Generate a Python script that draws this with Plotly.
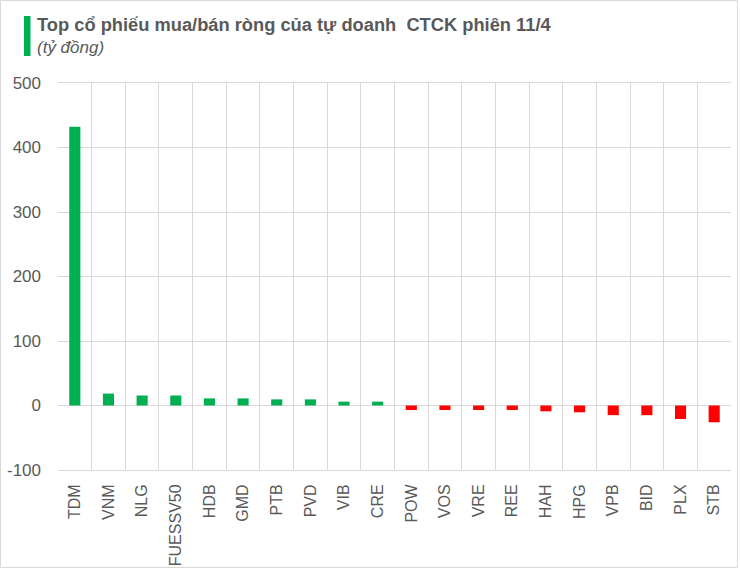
import plotly.graph_objects as go

categories = ["TDM", "VNM", "NLG", "FUESSV50", "HDB", "GMD", "PTB", "PVD", "VIB", "CRE",
              "POW", "VOS", "VRE", "REE", "HAH", "HPG", "VPB", "BID", "PLX", "STB"]
values = [432, 18.5, 15.5, 15.5, 11, 11, 9.5, 9.5, 6, 6,
          -7, -7, -7, -7, -9, -10.5, -15, -15, -21, -26]
y_ticks = [-100, 0, 100, 200, 300, 400, 500]
y_tick_labels = ["-100", "0", "100", "200", "300", "400", "500"]
title_text = "Top cổ phiếu mua/bán ròng của tự doanh  CTCK phiên 11/4"
subtitle_text = "(tỷ đồng)"

colors = ["#00b050" if v >= 0 else "#ff0000" for v in values]

W, H = 740, 570
ml, mr, mt, mb = 58, 9, 83, 100
pw, ph = W - ml - mr, H - mt - mb

fig = go.Figure(go.Bar(x=categories, y=values, marker=dict(color=colors, line=dict(width=0)),
                       width=0.33))

fig.update_layout(
    width=W, height=H,
    margin=dict(l=ml, r=mr, t=mt, b=mb),
    paper_bgcolor="white", plot_bgcolor="white",
    showlegend=False,
    font=dict(family="Liberation Sans", color="#595959"),
    xaxis=dict(type="category", tickson="boundaries", showgrid=True, gridcolor="#d9d9d9",
               gridwidth=1, ticks="", tickangle=-90, tickfont=dict(size=16, color="#595959"),
               showline=True, linecolor="#d9d9d9", mirror=True, range=[-0.5, 19.5],
               ticklabelstandoff=7, automargin=False),
    yaxis=dict(range=[-100, 500], tickvals=y_ticks, ticktext=y_tick_labels,
               showgrid=True, gridcolor="#d9d9d9",
               zeroline=True, zerolinecolor="#d9d9d9", zerolinewidth=1,
               tickfont=dict(size=17, color="#595959"), ticks="", ticklabelstandoff=16,
               showline=False, automargin=False),
    shapes=[
        dict(type="rect", xref="paper", yref="paper",
             x0=(0.5 - ml) / pw, x1=(W - ml - 2.5) / pw,
             y0=-(mb - 2.5) / ph, y1=(ph + mt - 0.5) / ph,
             line=dict(color="#d9d9d9", width=1), fillcolor="rgba(0,0,0,0)", layer="below"),
        dict(type="rect", xref="paper", yref="paper",
             x0=(24 - ml) / pw, x1=(30.5 - ml) / pw,
             y0=(H - mb - 56) / ph, y1=(H - mb - 16) / ph,
             line=dict(width=0), fillcolor="#00b050"),
    ],
    annotations=[
        dict(text="<b>" + title_text + "</b>", xref="paper", yref="paper",
             x=(35 - ml) / pw, y=(H - mb - 24) / ph, xanchor="left", yanchor="middle",
             showarrow=False, font=dict(family="Liberation Sans", size=18.3, color="#595959")),
        dict(text="<i>" + subtitle_text + "</i>", xref="paper", yref="paper",
             x=(35 - ml) / pw, y=(H - mb - 48) / ph, xanchor="left", yanchor="middle",
             showarrow=False, font=dict(family="Liberation Sans", size=17, color="#595959")),
    ],
)

fig.write_html("out.html", config={"displayModeBar": False},
               post_script="document.body.style.margin='0';")
